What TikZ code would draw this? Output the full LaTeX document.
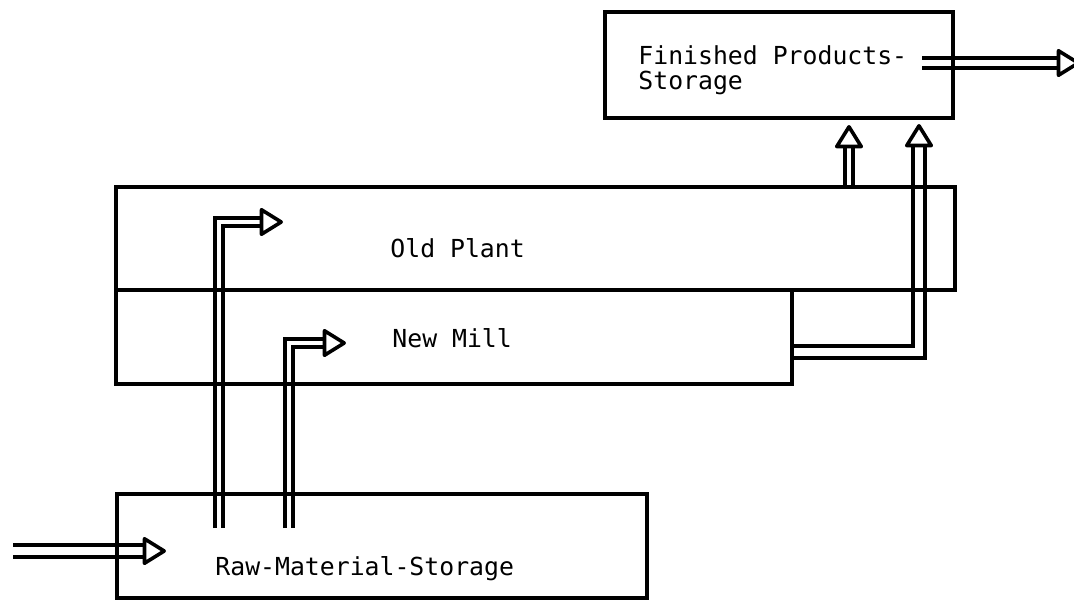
\documentclass[tikz,border=0pt]{standalone}
\usepackage{fontspec}
\setmonofont{DejaVu Sans Mono}
\usetikzlibrary{arrows.meta,backgrounds}
\begin{document}
\begin{tikzpicture}[
    x=0.5pt, y=-0.5pt,
    mybox/.style={draw, line width=1.8pt, inner sep=0pt},
    mylabel/.style={font=\ttfamily\fontsize{12.4}{12.6}\selectfont, inner sep=0pt},
    pipe/.style={line width=1.8pt, double, double distance=#1,
        -{Triangle[open, length=12.5pt, width=15pt, round]}},
    pipe/.default=2.4pt
]
    \useasboundingbox (0,0) rectangle (1074,602);
    % storages and plants
    \node[mybox, minimum width=174pt, minimum height=53pt] (fin) at (779,65) {};
    \node[mybox, minimum width=419.5pt, minimum height=51.5pt] (old) at (535.5,238.5) {};
    \node[mybox, minimum width=338pt, minimum height=47pt] (new) at (454,337) {};
    \node[mybox, minimum width=265pt, minimum height=52pt] (raw) at (382,546) {};

    \node[mylabel, anchor=west, align=left] (fintext) at (638,70) {Finished Products-\\Storage};
    \node[mylabel, anchor=base west] (oldtext) at (390,257) {Old Plant};
    \node[mylabel, anchor=base west] (newtext) at (392,347) {New Mill};
    \node[mylabel, anchor=base west] (rawtext) at (215,575) {Raw-Material-Storage};

    % flows
    \coordinate (inA) at (13,551);
    \coordinate (inB) at (166,551);
    \coordinate (r1) at (219,528);
    \coordinate (o1) at (283,222);
    \coordinate (r2) at (289,528);
    \coordinate (n2) at (346,343);
    \coordinate (f1) at (849,125);
    \coordinate (f2) at (919,124);
    \coordinate (outA) at (922,63);
    \coordinate (outB) at (1080,63);
    \begin{scope}[on background layer]
        \draw[pipe=4.2pt] (inA) -- (inB);
        \draw[pipe] (r1) |- (o1);
        \draw[pipe=2.2pt] (r2) |- (n2);
        \draw[pipe=2.2pt] (old.north -| f1) -- (f1);
        \draw[pipe=4.4pt] (new.east |- 0,352) -| (f2);
        \draw[pipe=3.4pt] (outA) -- (outB);
    \end{scope}
\end{tikzpicture}
\end{document}
